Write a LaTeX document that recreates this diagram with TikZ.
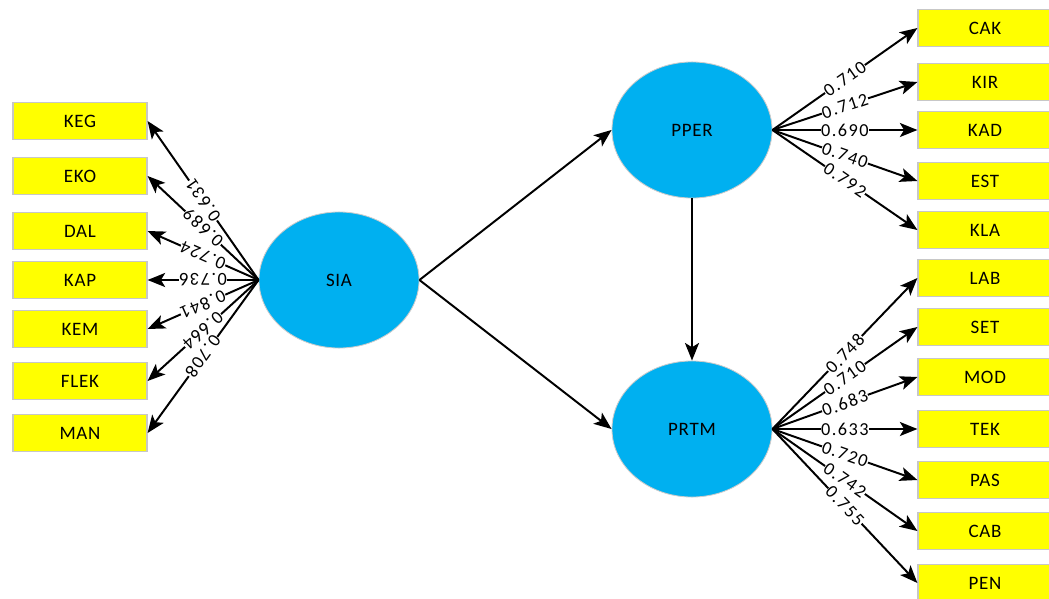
\documentclass[tikz,border=0pt]{standalone}
\usepackage{fontspec}
\setmainfont{Carlito}
\newfontfamily\lblfont[LetterSpace=8]{Carlito}
\newfontfamily\boxfont[LetterSpace=4]{Carlito}
\usetikzlibrary{shapes.geometric,arrows.meta}
\definecolor{lvblue}{HTML}{00B0F0}
\definecolor{indyellow}{HTML}{FFFF00}
\tikzset{
  latent/.style={ellipse, fill=lvblue, draw=black!20, line width=0.6pt,
    minimum width=4cm, minimum height=3.4cm, inner sep=0pt,
    font=\boxfont\fontsize{13.5}{13.5}\selectfont},
  indic/.style={rectangle, fill=indyellow, draw=black!22, line width=0.8pt,
    minimum width=3.35cm, minimum height=0.93cm, inner sep=0pt,
    font=\boxfont\fontsize{13.5}{13.5}\selectfont},
  conn/.style={line width=1.4pt, -{Stealth[length=12.5pt,width=10pt,inset=3pt]}},
  wt/.style={font=\lblfont\fontsize{13}{13}\selectfont, fill=white, inner sep=0.3pt,
    sloped, pos=0.5},
  wtl/.style={wt, allow upside down}
}
\begin{document}
\begin{tikzpicture}[x=0.025cm,y=-0.025cm]
\useasboundingbox (0,0) rectangle (1049,598);
% latent variables
\node[latent] (SIA) at (339,280) {SIA};
\node[latent] (PPER) at (692,130) {PPER};
\node[latent] (PRTM) at (692,429) {PRTM};
% left indicators
\node[indic] (KEG) at (80,121) {KEG};
\node[indic] (EKO) at (80,176) {EKO};
\node[indic] (DAL) at (80,231) {DAL};
\node[indic] (KAP) at (80,280) {KAP};
\node[indic] (KEM) at (80,329) {KEM};
\node[indic] (FLEK) at (80,381) {FLEK};
\node[indic] (MAN) at (80,433) {MAN};
% right indicators PPER
\node[indic] (CAK) at (985,28) {CAK};
\node[indic] (KIR) at (985,82) {KIR};
\node[indic] (KAD) at (985,130) {KAD};
\node[indic] (EST) at (985,181) {EST};
\node[indic] (KLA) at (985,230) {KLA};
% right indicators PRTM
\node[indic] (LAB) at (985,278) {LAB};
\node[indic] (SET) at (985,327) {SET};
\node[indic] (MOD) at (985,377) {MOD};
\node[indic] (TEK) at (985,429) {TEK};
\node[indic] (PAS) at (985,480) {PAS};
\node[indic] (CAB) at (985,531) {CAB};
\node[indic] (PEN) at (985,583) {PEN};
% structural paths
\draw[conn] (SIA.east) -- (PPER.west);
\draw[conn] (SIA.east) -- (PRTM.west);
\draw[conn] (PPER.south) -- (PRTM.north);
% SIA loadings
\draw[conn] (SIA.west) -- node[wtl]{0.631} (KEG.east);
\draw[conn] (SIA.west) -- node[wtl]{0.689} (EKO.east);
\draw[conn] (SIA.west) -- node[wtl]{0.724} (DAL.east);
\draw[conn] (SIA.west) -- node[wtl]{0.736} (KAP.east);
\draw[conn] (SIA.west) -- node[wtl]{0.841} (KEM.east);
\draw[conn] (SIA.west) -- node[wtl]{0.664} (FLEK.east);
\draw[conn] (SIA.west) -- node[wtl]{0.708} (MAN.east);
% PPER loadings
\draw[conn] (PPER.east) -- node[wt]{0.710} (CAK.west);
\draw[conn] (PPER.east) -- node[wt]{0.712} (KIR.west);
\draw[conn] (PPER.east) -- node[wt]{0.690} (KAD.west);
\draw[conn] (PPER.east) -- node[wt]{0.740} (EST.west);
\draw[conn] (PPER.east) -- node[wt]{0.792} (KLA.west);
% PRTM loadings
\draw[conn] (PRTM.east) -- node[wt]{0.748} (LAB.west);
\draw[conn] (PRTM.east) -- node[wt]{0.710} (SET.west);
\draw[conn] (PRTM.east) -- node[wt]{0.683} (MOD.west);
\draw[conn] (PRTM.east) -- node[wt]{0.633} (TEK.west);
\draw[conn] (PRTM.east) -- node[wt]{0.720} (PAS.west);
\draw[conn] (PRTM.east) -- node[wt]{0.742} (CAB.west);
\draw[conn] (PRTM.east) -- node[wt]{0.755} (PEN.west);
\end{tikzpicture}
\end{document}
